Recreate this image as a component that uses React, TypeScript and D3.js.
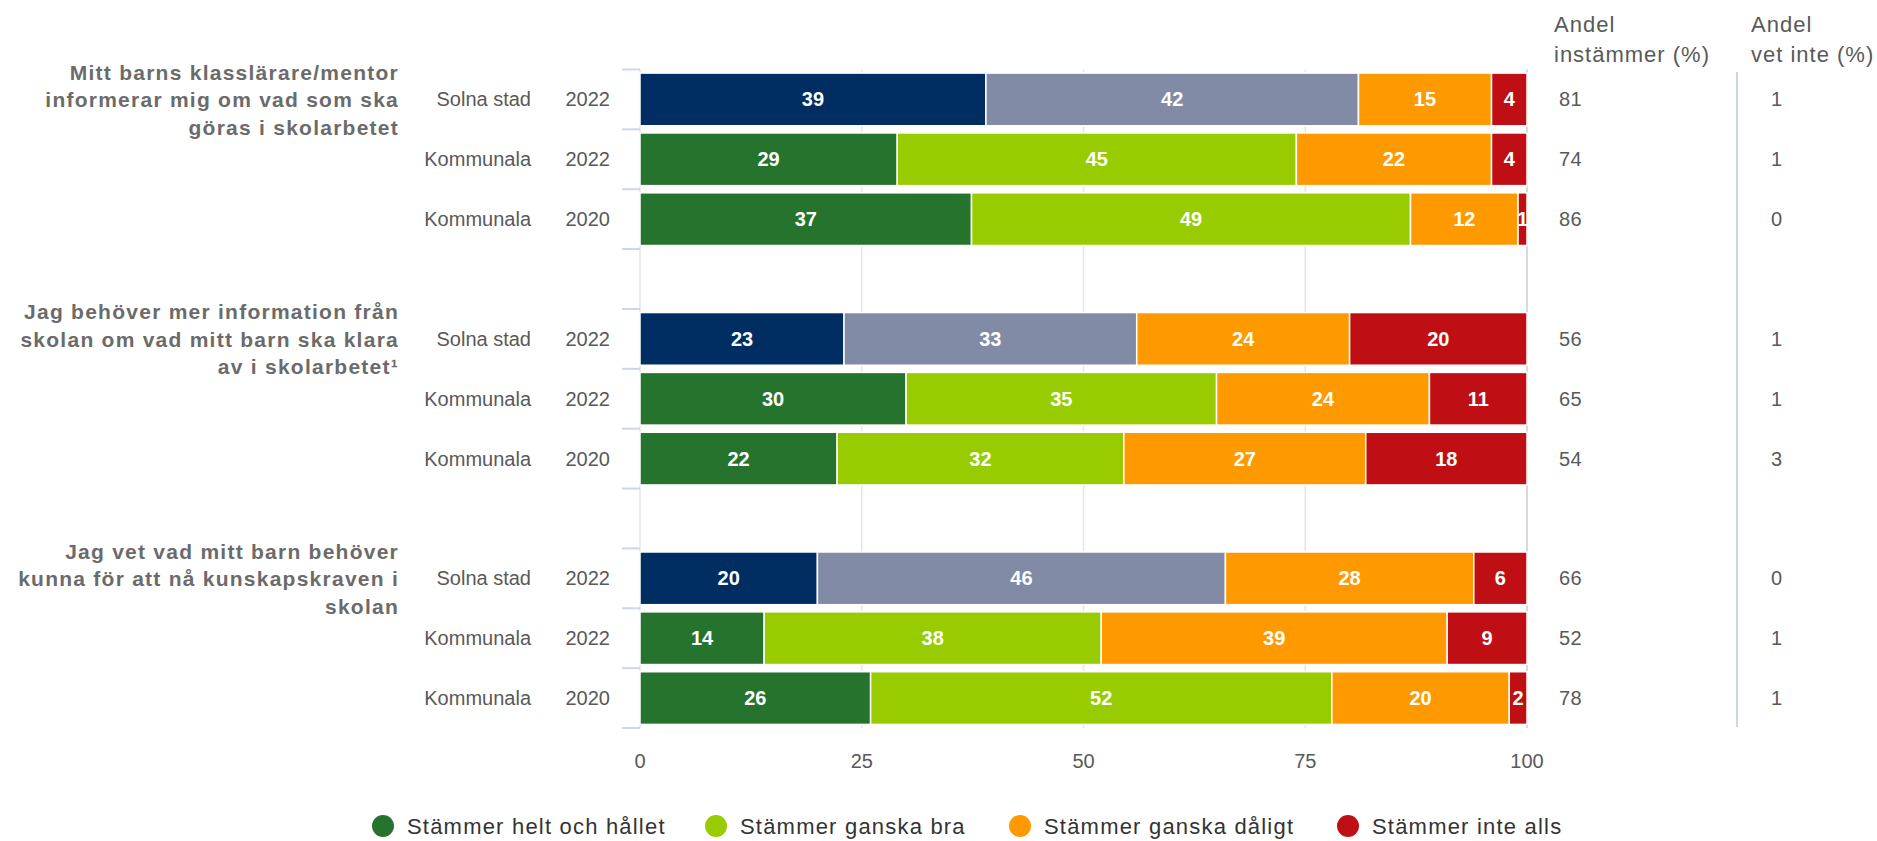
import React, { useEffect } from "react";
import * as d3 from "d3";

const W = 1877;
const H = 841;

const seriesNames = [
  "Stämmer helt och hållet",
  "Stämmer ganska bra",
  "Stämmer ganska dåligt",
  "Stämmer inte alls",
];
const questions = [
  ["Mitt barns klasslärare/mentor", "informerar mig om vad som ska", "göras i skolarbetet"],
  ["Jag behöver mer information från", "skolan om vad mitt barn ska klara", "av i skolarbetet¹"],
  ["Jag vet vad mitt barn behöver", "kunna för att nå kunskapskraven i", "skolan"],
];
const rowGroups = ["Solna stad", "Kommunala", "Kommunala"];
const rowYears = ["2022", "2022", "2020"];

// values [question][row][series]
const helt = [[39, 29, 37], [23, 30, 22], [20, 14, 26]];
const ganskaBra = [[42, 45, 49], [33, 35, 32], [46, 38, 52]];
const ganskaDaligt = [[15, 22, 12], [24, 24, 27], [28, 39, 20]];
const inteAlls = [[4, 4, 1], [20, 11, 18], [6, 9, 2]];
const andelInstammer = [[81, 74, 86], [56, 65, 54], [66, 52, 78]];
const andelVetInte = [[1, 1, 0], [1, 1, 3], [0, 1, 1]];
const xTicks = [0, 25, 50, 75, 100];

const solnaColors = ["#002d62", "#818ba6", "#ff9900", "#c00f14"];
const kommColors = ["#26732d", "#99cc00", "#ff9900", "#c00f14"];
const legendColors = ["#26732d", "#99cc00", "#ff9900", "#c00f14"];

const FONT = "'Liberation Sans', Arial, sans-serif";

export default function App() {
  useEffect(() => {
    document.body.style.margin = "0";
  }, []);

  const slots: string[] = [];
  questions.forEach((_, qi) => {
    for (let r = 0; r < 3; r++) slots.push(`q${qi}r${r}`);
    if (qi < questions.length - 1) slots.push(`gap${qi}`);
  });

  const top = 69.5;
  const bottom = 728;
  const y = d3.scaleBand<string>().domain(slots).range([top, bottom]).paddingInner(0.12).paddingOuter(0.06);
  const step = y.step();
  const x = d3.scaleLinear().domain([0, 100]).range([640, 1527]);

  const bars: React.ReactNode[] = [];
  const labels: React.ReactNode[] = [];
  questions.forEach((q, qi) => {
    for (let r = 0; r < 3; r++) {
      const key = `q${qi}r${r}`;
      const vals = [helt[qi][r], ganskaBra[qi][r], ganskaDaligt[qi][r], inteAlls[qi][r]];
      const sum = d3.sum(vals);
      const colors = r === 0 ? solnaColors : kommColors;
      let cum = 0;
      const by = y(key)!;
      const bh = y.bandwidth();
      const cy = by + bh / 2;
      vals.forEach((v, si) => {
        const x0 = x((cum / sum) * 100);
        cum += v;
        const x1 = x((cum / sum) * 100);
        bars.push(
          <rect key={`${key}-${si}`} x={x0} y={by} width={x1 - x0} height={bh} fill={colors[si]} stroke="#ffffff" strokeWidth={1.5} />
        );
        bars.push(
          <text key={`${key}-${si}-t`} x={(x0 + x1) / 2} y={cy + 7} textAnchor="middle" fill="#ffffff" fontWeight="bold" fontSize={20} fontFamily={FONT}>
            {v}
          </text>
        );
      });
      labels.push(
        <text key={`${key}-g`} x={531} y={cy + 7} textAnchor="end" fill="#595959" fontSize={20} fontFamily={FONT}>
          {rowGroups[r]}
        </text>,
        <text key={`${key}-y`} x={610} y={cy + 7} textAnchor="end" fill="#595959" fontSize={20} fontFamily={FONT}>
          {rowYears[r]}
        </text>,
        <text key={`${key}-a`} x={1559} y={cy + 7} fill="#595959" fontSize={20} letterSpacing={0.5} fontFamily={FONT}>
          {andelInstammer[qi][r]}
        </text>,
        <text key={`${key}-v`} x={1771} y={cy + 7} fill="#595959" fontSize={20} fontFamily={FONT}>
          {andelVetInte[qi][r]}
        </text>
      );
    }
    const c0 = y(`q${qi}r0`)! + y.bandwidth() / 2 + 1;
    q.forEach((line, li) => {
      labels.push(
        <text key={`q${qi}l${li}`} x={399} y={c0 + (li - 1) * 27.5 + 7} textAnchor="end" fill="#6b6b6b" fontWeight="bold" fontSize={21} letterSpacing={1.25} fontFamily={FONT}>
          {line}
        </text>
      );
    });
  });

  const slotTicks = d3.range(slots.length + 1).map((i) => top + i * step);

  const legendCx = [383, 716, 1020, 1348];

  return (
    <svg width={W} height={H} style={{ position: "absolute", left: 0, top: 0, display: "block" }} xmlns="http://www.w3.org/2000/svg">
      <rect x={0} y={0} width={W} height={H} fill="#ffffff" />
      {xTicks.map((t) => (
        <line key={`g${t}`} x1={x(t)} x2={x(t)} y1={top} y2={bottom} stroke={t === 100 ? "#d9d9d9" : "#e6e6e6"} strokeWidth={t === 100 ? 2 : 1.5} />
      ))}
      {slotTicks.map((ty, i) => (
        <line key={`st${i}`} x1={622} x2={640} y1={ty} y2={ty} stroke="#ccd6eb" strokeWidth={2} />
      ))}
      {bars}
      {labels}
      {xTicks.map((t) => (
        <text key={`xt${t}`} x={x(t)} y={768} textAnchor="middle" fill="#595959" fontSize={20} fontFamily={FONT}>
          {t}
        </text>
      ))}
      <line x1={1737} x2={1737} y1={72} y2={727} stroke="#ccd6eb" strokeWidth={2} />
      <text x={1554} y={32} fill="#595959" fontSize={22} letterSpacing={1} fontFamily={FONT}>Andel</text>
      <text x={1554} y={62} fill="#595959" fontSize={22} letterSpacing={1} fontFamily={FONT}>instämmer (%)</text>
      <text x={1751} y={32} fill="#595959" fontSize={22} letterSpacing={1} fontFamily={FONT}>Andel</text>
      <text x={1751} y={62} fill="#595959" fontSize={22} letterSpacing={1} fontFamily={FONT}>vet inte (%)</text>
      {seriesNames.map((name, i) => (
        <g key={`lg${i}`}>
          <circle cx={legendCx[i]} cy={826} r={11} fill={legendColors[i]} />
          <text x={legendCx[i] + 24} y={834} fill="#333333" fontSize={22} letterSpacing={1.2} fontFamily={FONT}>
            {name}
          </text>
        </g>
      ))}
    </svg>
  );
}
